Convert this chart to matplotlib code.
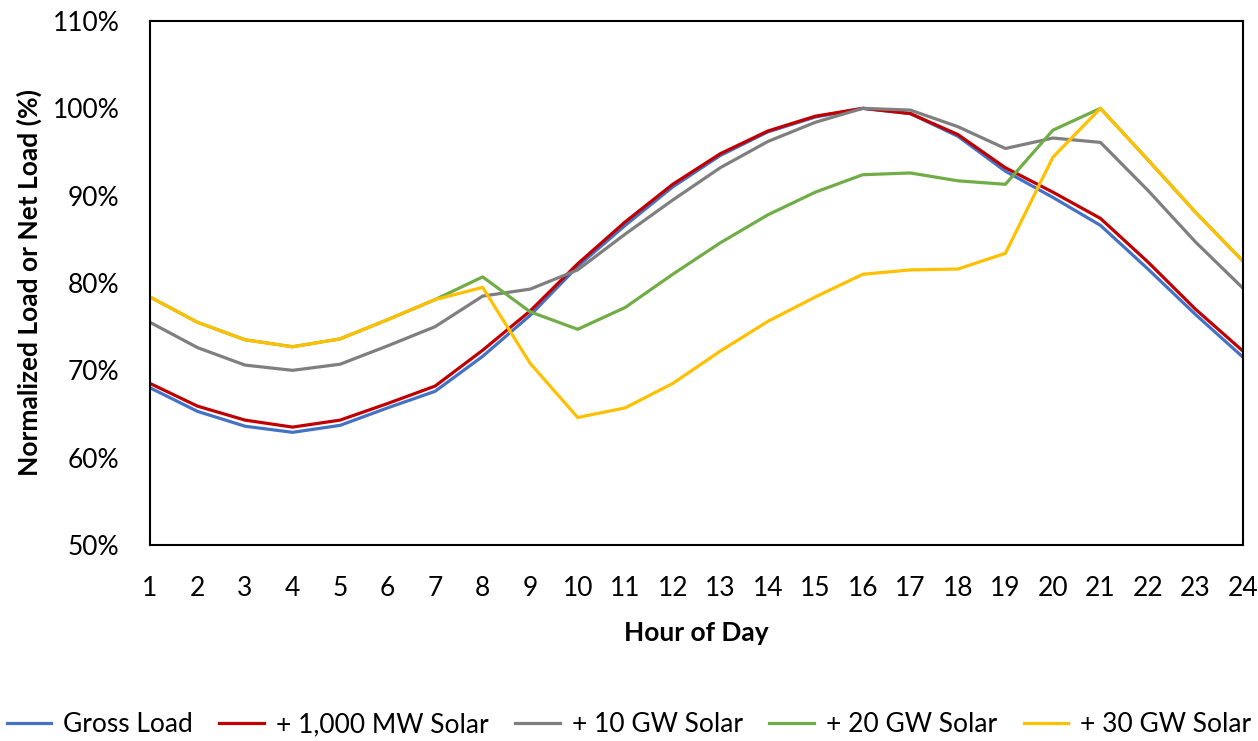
import matplotlib
matplotlib.use("Agg")
import matplotlib.pyplot as plt
import numpy as np
from matplotlib.ticker import FuncFormatter

plt.rcParams["font.family"] = ["Lato", "DejaVu Sans"]

hours = list(range(1, 25))

# Normalized load / net load, % of daily peak
gross_load = [68.0, 65.3, 63.6, 62.9, 63.7, 65.7, 67.6, 71.6, 76.3, 81.9, 86.6, 91.0,
              94.6, 97.3, 99.0, 100.0, 99.4, 96.8, 92.8, 89.8, 86.6, 81.6, 76.4, 71.5]
solar_1000mw = [68.5, 65.9, 64.3, 63.5, 64.3, 66.2, 68.2, 72.3, 76.8, 82.2, 87.0, 91.3,
                94.8, 97.4, 99.1, 100.0, 99.4, 97.0, 93.2, 90.4, 87.4, 82.4, 77.0, 72.2]
solar_10gw = [75.5, 72.6, 70.6, 70.0, 70.7, 72.8, 75.0, 78.5, 79.3, 81.5, 85.6, 89.5,
              93.2, 96.2, 98.4, 100.0, 99.8, 97.9, 95.4, 96.6, 96.1, 90.6, 84.7, 79.4]
solar_20gw = [78.4, 75.5, 73.5, 72.7, 73.6, 75.8, 78.1, 80.7, 76.7, 74.7, 77.2, 81.0,
              84.6, 87.8, 90.4, 92.4, 92.6, 91.7, 91.3, 97.5, 100.0, 94.1, 88.1, 82.5]
solar_30gw = [78.4, 75.5, 73.5, 72.7, 73.6, 75.8, 78.1, 79.5, 70.8, 64.6, 65.7, 68.5,
              72.2, 75.6, 78.4, 81.0, 81.5, 81.6, 83.4, 94.4, 100.0, 94.1, 88.1, 82.5]

series = [
    ("Gross Load", gross_load, "#4472C4"),
    ("+ 1,000 MW Solar", solar_1000mw, "#C00000"),
    ("+ 10 GW Solar", solar_10gw, "#7F7F7F"),
    ("+ 20 GW Solar", solar_20gw, "#70AD47"),
    ("+ 30 GW Solar", solar_30gw, "#FFC000"),
]

fig = plt.figure(figsize=(12.58, 7.41), dpi=100)
ax = fig.add_axes([150 / 1258, 1 - 545 / 741, 1093 / 1258, 524 / 741])

for label, vals, color in series:
    ax.plot(hours, vals, color=color, lw=2.3, label=label, solid_joinstyle="round")

ax.set_xlim(1, 24)
ax.set_ylim(50, 110)
ax.set_xticks(hours)
ax.set_yticks(np.arange(50, 111, 10))
ax.yaxis.set_major_formatter(FuncFormatter(lambda v, _: f"{v:.0f}%"))
ax.tick_params(length=0, labelsize=19)
ax.tick_params(axis="x", pad=22)
ax.tick_params(axis="y", pad=22)
for sp in ax.spines.values():
    sp.set_color("black")
    sp.set_linewidth(1.5)

ax.set_xlabel("Hour of Day", fontsize=19, fontweight="bold", labelpad=15)
ax.set_ylabel("Normalized Load or Net Load (%)", fontsize=19, fontweight="bold")
ax.yaxis.set_label_coords(-(150 - 42) / 1093, 0.5)

fig.legend(loc="center", bbox_to_anchor=(0.5, 0.022), ncol=5, frameon=False,
           fontsize=19, handlelength=1.7, handletextpad=0.45, columnspacing=1.0)

fig.savefig("out.png", dpi=100, facecolor="white")
